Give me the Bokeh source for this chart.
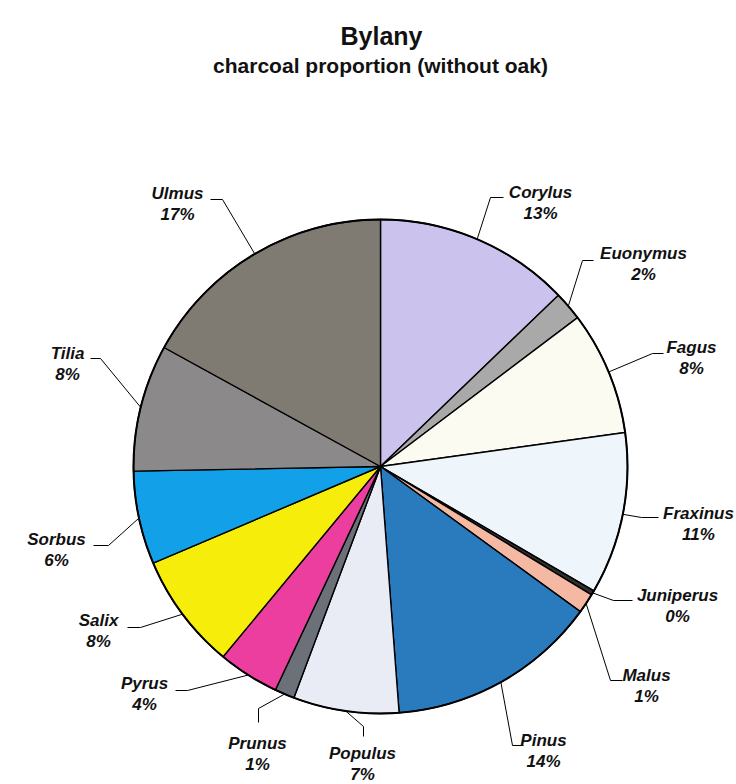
import math

from bokeh.core.properties import value
from bokeh.embed import file_html
from bokeh.models import Range1d
from bokeh.plotting import figure
from bokeh.resources import INLINE

# ---- data: charcoal share per taxon, clockwise from 12 o'clock ----
taxa = ["Corylus", "Euonymus", "Fagus", "Fraxinus", "Juniperus", "Malus", "Pinus",
        "Populus", "Prunus", "Pyrus", "Salix", "Sorbus", "Tilia", "Ulmus"]
shares = [12.8, 1.9, 8.1, 10.6, 0.3, 1.3, 13.8, 6.9, 1.3, 4.0, 7.6, 6.1, 8.3, 17.0]
colors = ["#cbc3ee", "#a9a9a9", "#fbfbf2", "#eef5fb", "#303030", "#f5b8a2", "#2a7bbd",
          "#e9ebf5", "#6c7079", "#ec3e9f", "#f6ee0a", "#12a0e8", "#8c898b", "#807b72"]

title_text = "Bylany"
subtitle_text = "charcoal proportion (without oak)"

# ---- layout (page pixels, y downwards) ----
W, H = 736, 784
CX, CY, R = 380, 466, 247

# label: (text centre x, name baseline y, leader start, leader elbow)
label_layout = {
    "Corylus":   (540, 192, (503, 197), (490, 197)),
    "Euonymus":  (643, 253, (593, 260), (582, 260)),
    "Fagus":     (691, 347, (663, 353), (652, 353)),
    "Fraxinus":  (698, 513, (658, 517), (641, 517)),
    "Juniperus": (677, 595, (632, 600), (613, 600)),
    "Malus":     (646, 675, (622, 680), (610, 680)),
    "Pinus":     (543, 740, (523, 745), (512, 745)),
    "Populus":   (362, 753, (363, 736), (363, 726)),
    "Prunus":    (257, 743, (258, 722), (258, 708)),
    "Pyrus":     (144, 683, (175, 690), (187, 690)),
    "Salix":     (98, 620, (127, 627), (140, 627)),
    "Sorbus":    (56, 539, (93, 545), (108, 545)),
    "Tilia":     (67, 353, (90, 358), (100, 358)),
    "Ulmus":     (177, 193, (210, 199), (222, 199)),
}
LINE_GAP = 21


def fy(y):
    return H - y


p = figure(width=W, height=H, output_backend="svg", toolbar_location=None,
           x_range=Range1d(0, W), y_range=Range1d(0, H),
           x_axis_location=None, y_axis_location=None, min_border=0)
p.grid.visible = False
p.outline_line_color = None
p.background_fill_color = "white"
p.border_fill_color = "white"

total = sum(shares)
cum = 0.0
starts, ends, mids = [], [], []
for s in shares:
    a0 = cum / total
    cum += s
    a1 = cum / total
    # clockwise from the top -> bokeh anticlockwise angles from +x
    starts.append(math.pi / 2 - 2 * math.pi * a1)
    ends.append(math.pi / 2 - 2 * math.pi * a0)
    mids.append((a0 + a1) / 2)

p.wedge(x=CX, y=fy(CY), radius=R, start_angle=starts, end_angle=ends,
        direction="anticlock", fill_color=colors, line_color="black", line_width=1.4)
p.circle(x=[CX], y=[fy(CY)], radius=R, fill_color=None, line_color="black", line_width=2)

label_font = value("Liberation Sans")
for name, s, m in zip(taxa, shares, mids):
    tx, ty, h0, h1 = label_layout[name]
    ang = 2 * math.pi * m
    ex = CX + R * math.sin(ang)
    ey = CY - R * math.cos(ang)
    p.line(x=[h0[0], h1[0], ex], y=[fy(h0[1]), fy(h1[1]), fy(ey)],
           line_color="black", line_width=1)
    pct = f"{round(100 * s / total)}%"
    p.text(x=[tx, tx], y=[fy(ty), fy(ty + LINE_GAP)], text=[name, pct],
           text_font=label_font, text_font_style="bold italic", text_font_size="17px",
           text_align="center", text_baseline="alphabetic", text_color="#111111")

p.text(x=[381], y=[fy(35)], text=[title_text], text_font=value("Liberation Sans"),
       text_font_style="bold", text_font_size="25px", text_align="center",
       text_baseline="alphabetic", text_color="#111111")
p.text(x=[380], y=[fy(65)], text=[subtitle_text], text_font=value("Liberation Sans"),
       text_font_style="bold", text_font_size="21px", text_align="center",
       text_baseline="alphabetic", text_color="#111111")

open("out.html", "w").write(file_html(p, INLINE))
